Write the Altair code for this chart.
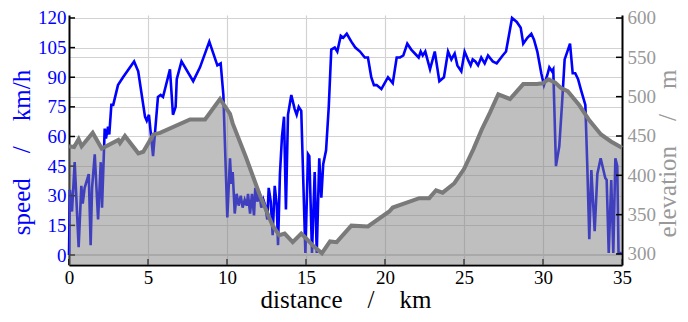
import altair as alt
import pandas as pd

# ---------------- data ----------------
speed_km = [0.00, 0.06, 0.19, 0.36, 0.61, 0.78, 0.87, 0.99, 1.25, 1.37, 1.46, 1.63, 1.84, 2.01, 2.09,
            2.26, 2.34, 2.47, 2.55, 2.68, 2.80, 3.10, 3.42, 4.12, 4.38, 4.81, 4.92, 5.06, 5.32, 5.63,
            5.80, 5.95, 6.39, 6.58, 6.75, 6.82, 7.12, 7.86, 8.29, 8.88, 9.39, 9.60, 9.77, 10.02, 10.19,
            10.27, 10.36, 10.49, 10.61, 10.74, 10.87, 10.99, 11.12, 11.25, 11.33, 11.46, 11.58, 11.71,
            11.79, 11.92, 12.04, 12.17, 12.30, 12.42, 12.55, 12.64, 12.77, 12.89, 13.02, 13.15, 13.23,
            13.35, 13.48, 13.61, 13.73, 13.86, 14.07, 14.28, 14.41, 14.54, 14.70, 14.96, 15.13, 15.21,
            15.38, 15.55, 15.68, 15.84, 15.97, 16.09, 16.27, 16.44, 16.60, 16.82, 16.98, 17.20, 17.36,
            17.58, 17.87, 18.12, 18.42, 18.72, 18.92, 19.13, 19.30, 19.47, 19.77, 19.98, 20.19, 20.49,
            20.74, 20.95, 21.16, 21.41, 21.66, 22.01, 22.13, 22.26, 22.39, 22.55, 22.85, 23.15, 23.44,
            23.73, 23.99, 24.20, 24.41, 24.58, 24.83, 25.04, 25.30, 25.42, 25.55, 25.72, 25.89, 26.09,
            26.31, 26.52, 26.82, 27.07, 27.45, 27.66, 28.04, 28.34, 28.59, 28.75, 29.01, 29.26, 29.43,
            29.64, 29.89, 30.06, 30.27, 30.40, 30.57, 30.65, 30.82, 31.03, 31.20, 31.37, 31.54, 31.71,
            31.88, 32.04, 32.22, 32.39, 32.68, 32.80, 32.93, 33.06, 33.27, 33.44, 33.65, 33.94, 34.03,
            34.16, 34.32, 34.45, 34.58, 34.70, 34.78, 35.00]
speed_val = [0, 33, 22, 47, 4, 35, 26, 34, 41, 5, 34, 51, 18, 47, 24,
             64, 59, 65, 61, 76, 76, 86, 90, 98, 93, 70, 68, 71, 50, 80,
             81, 80, 94, 71, 75, 89, 98, 88, 95, 108, 96, 97, 81, 19, 49,
             36, 42, 21, 31, 25, 30, 24, 28, 25, 31, 21, 31, 20,
             34, 27, 32, 24, 28, 25, 18, 34, 27, 10, 35, 25, 5,
             41, 60, 70, 23, 71, 81, 74, 71, 75, 73, 1, 51, 50,
             1, 42, 1, 49, 29, 46, 53, 75, 104, 105, 103, 111, 110,
             112, 108, 105, 103, 100, 100, 90, 86, 86, 84, 87, 90, 87,
             100, 100, 101, 107, 104, 101, 100, 103, 101, 103, 94, 103, 88,
             90, 103, 99, 102, 96, 93, 103, 98, 96, 99, 98, 96, 100,
             97, 101, 98, 97, 101, 103, 120, 118, 115, 107, 110, 112, 109,
             103, 92, 86, 91, 95, 93, 94, 45, 55, 76, 99, 103, 107,
             92, 92, 89, 84, 76, 46, 8, 43, 12, 41, 49, 39, 38,
             1, 38, 1, 49, 45, 1, 1]

elev_km = [0.00, 0.32, 0.61, 0.80, 1.50, 2.07, 3.12, 3.23, 3.54, 4.39, 4.70, 5.34, 5.76, 7.66, 8.61,
           9.56, 10.19, 10.36, 11.20, 12.04, 12.89, 13.31, 13.65, 14.16, 14.70, 15.00, 15.42, 16.01,
           16.52, 16.94, 17.87, 18.92, 20.27, 20.49, 21.33, 22.17, 22.80, 23.23, 23.65, 24.39, 25.00,
           25.59, 26.12, 26.65, 27.17, 27.91, 28.75, 29.60, 29.98, 30.34, 30.76, 31.14, 31.56, 32.30,
           32.93, 33.67, 34.30, 35.00]
elev_val = [437, 436, 446, 437, 454, 434, 445, 441, 450, 428, 430, 452, 454, 471, 471,
            497, 478, 466, 423, 377, 336, 324, 326, 315, 326, 320, 311, 301,
            316, 315, 336, 335, 354, 359, 365, 371, 371, 381, 378, 390, 408,
            433, 458, 480, 503, 497, 516, 516, 517, 522, 518, 511, 507, 489,
            470, 452, 443, 435]

x_ticks = [0, 5, 10, 15, 20, 25, 30, 35]
speed_ticks = [0, 15, 30, 45, 60, 75, 90, 105, 120]
elev_ticks = [300, 350, 400, 450, 500, 550, 600]

speed_df = pd.DataFrame({"km": speed_km, "speed": speed_val})
elev_df = pd.DataFrame({"km": elev_km, "elev": elev_val})
xt_df = pd.DataFrame({"km": x_ticks})
st_df = pd.DataFrame({"speed": speed_ticks})
et_df = pd.DataFrame({"elev": elev_ticks})

# ---------------- style ----------------
W, H = 553, 250
FONT = "Liberation Serif"
NB = "\u00a0" * 4
GRID = "#d2d2d2"
E_MIN = 286.0

xscale = alt.Scale(domain=[0, 35], nice=False, zero=False)
sscale = alt.Scale(domain=[-5.06, 121.5], nice=False, zero=False)
escale = alt.Scale(domain=[E_MIN, 603.8], nice=False, zero=False)

xaxis = alt.Axis(values=x_ticks, title="distance" + NB + "/" + NB + "km", titleFont=FONT,
                 titleFontSize=25, titleFontWeight="normal", titleColor="black",
                 titleX=W / 2, titleY=42, titleBaseline="alphabetic", titleAlign="center",
                 labelFont=FONT, labelFontSize=19, labelColor="black", labelPadding=3,
                 ticks=False, domainColor="black", domainWidth=2, grid=True,
                 gridColor=GRID, gridWidth=1.2, labelFlush=False)

saxis = alt.Axis(orient="left", values=speed_ticks, title="speed" + NB + "/" + NB + "km/h",
                 titleFont=FONT, titleFontSize=25, titleFontWeight="normal", titleColor="#0000ff",
                 titleAngle=270, titleX=-48, titleY=H / 2 + 12, titleAlign="center",
                 titleBaseline="middle", labelFont=FONT, labelFontSize=19, labelColor="#0000ff",
                 labelPadding=3, ticks=False, domainColor="black", domainWidth=2, grid=True,
                 gridColor=GRID, gridWidth=1.2)

eaxis = alt.Axis(orient="right", values=elev_ticks, title="elevation" + NB + "/" + NB + "m",
                 titleFont=FONT, titleFontSize=25, titleFontWeight="normal", titleColor="#999999",
                 titleAngle=270, titleX=45, titleY=H / 2 + 13, titleAlign="center",
                 titleBaseline="middle", labelFont=FONT, labelFontSize=19, labelColor="#999999",
                 labelPadding=5, ticks=False, domainColor="black", domainWidth=2, grid=True,
                 gridColor=GRID, gridWidth=1.2)

X = alt.X("km:Q", scale=xscale, axis=xaxis)
YS = alt.Y("speed:Q", scale=sscale, axis=saxis)
YE = alt.Y("elev:Q", scale=escale, axis=eaxis)

# ---------------- speed layer ----------------
speed_line = alt.Chart(speed_df).mark_line(color="#0000ff", strokeWidth=2.6).encode(
    x=X, y=YS, order="km:Q",
)
speed_tk = alt.Chart(st_df).mark_rule(color="black", strokeWidth=1.5).encode(
    y=YS, x=alt.value(0), x2=alt.value(6),
)
x_tk = alt.Chart(xt_df).mark_rule(color="black", strokeWidth=1.5).encode(
    x=X, y=alt.value(H), y2=alt.value(H - 6),
)
speed_layer = alt.layer(speed_line, speed_tk, x_tk)

# ---------------- elevation layer ----------------
elev_area = alt.Chart(elev_df).mark_area(color="#808080", opacity=0.5, clip=True).encode(
    x=X, y=YE, y2=alt.datum(E_MIN),
)
elev_line = alt.Chart(elev_df).mark_line(color="#7a7a7a", strokeWidth=4).encode(
    x=X, y=YE,
)
elev_tk = alt.Chart(et_df).mark_rule(color="black", strokeWidth=1.5).encode(
    y=YE, x=alt.value(W), x2=alt.value(W - 6),
)
elev_layer = alt.layer(elev_area, elev_line, elev_tk)

chart = alt.layer(speed_layer, elev_layer).resolve_scale(y="independent").properties(
    width=W, height=H,
    autosize=alt.AutoSizeParams(type="none"),
    padding={"left": 61, "top": 7, "right": 58, "bottom": 47},
).configure_view(strokeWidth=0)

chart.save("out.html", embed_options={"renderer": "svg", "actions": False})
